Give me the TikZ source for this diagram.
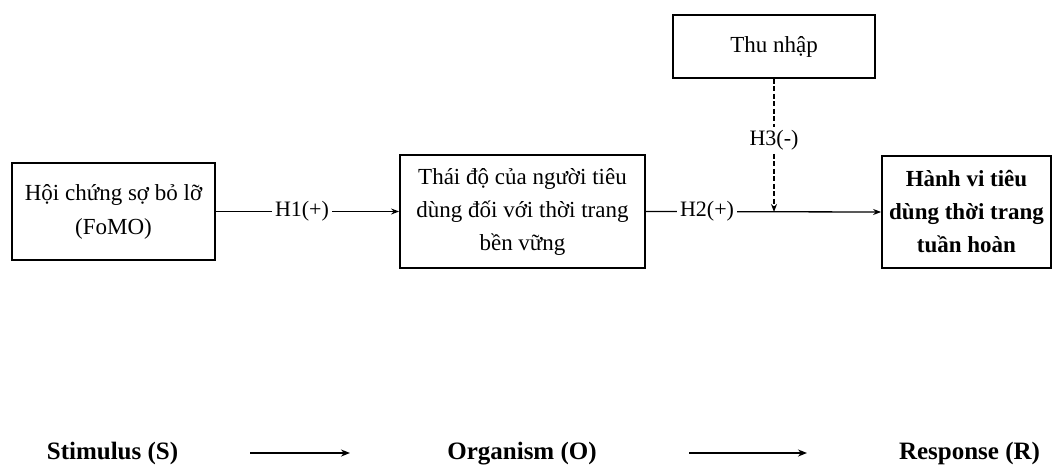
\documentclass[tikz,border=0pt]{standalone}
\usepackage{fontspec}
\setmainfont{Liberation Serif}
\usetikzlibrary{arrows.meta}
\begin{document}
\begin{tikzpicture}[x=1pt,y=-1pt,
  box/.style={draw, line width=1.8pt, align=center, inner sep=0pt,
    font=\fontsize{23}{34}\selectfont},
  conn/.style={line width=1.3pt, -{Stealth[length=8pt,width=6pt]}},
  lbl/.style={fill=white, inner sep=3pt, font=\fontsize{22}{26}\selectfont},
  srl/.style={font=\fontsize{25}{30}\selectfont\bfseries, anchor=base},
  bigarrow/.style={line width=2pt, -{Stealth[length=9pt,width=7pt]}}]
\useasboundingbox (0,0) rectangle (1054,466);
\fill[white] (0,0) rectangle (1054,466);
\node[box, minimum width=203pt, minimum height=97pt] (a) at (113.5,211.5)
  {Hội chứng sợ bỏ lỡ\\(FoMO)};
\node[box, minimum width=245pt, minimum height=113pt, font=\fontsize{23}{33}\selectfont] (b) at (522.5,211.5)
  {Thái độ của người tiêu\\dùng đối với thời trang\\bền vững};
\node[box, minimum width=202pt, minimum height=63pt] (c) at (774,46.5)
  {Thu nhập};
\node[box, minimum width=169pt, minimum height=112pt, font=\fontsize{23}{33}\selectfont\bfseries] (d) at (966.5,212)
  {Hành vi tiêu\\dùng thời trang\\tuần hoàn};
\coordinate (m) at (774,212);
\draw[conn] (a.east) -- node[lbl, pos=0.47] {H1(+)} (b.west);
\draw[conn] (b.east) -- node[lbl, pos=0.26] {H2(+)} (d.west);
\draw[conn, dash pattern=on 5pt off 2.5pt, line width=1.6pt] (c.south) -- node[lbl, pos=0.46] {H3(-)} (m);
\node[srl] (s) at (112.5,459) {Stimulus (S)};
\node[srl] (o) at (522,459) {Organism (O)};
\node[srl] (r) at (969.5,459) {Response (R)};
\coordinate (s1) at (250,453);
\coordinate (s2) at (350,453);
\coordinate (o1) at (689,453);
\coordinate (o2) at (807,453);
\draw[bigarrow] (s1) -- (s2);
\draw[bigarrow] (o1) -- (o2);
\end{tikzpicture}
\end{document}
